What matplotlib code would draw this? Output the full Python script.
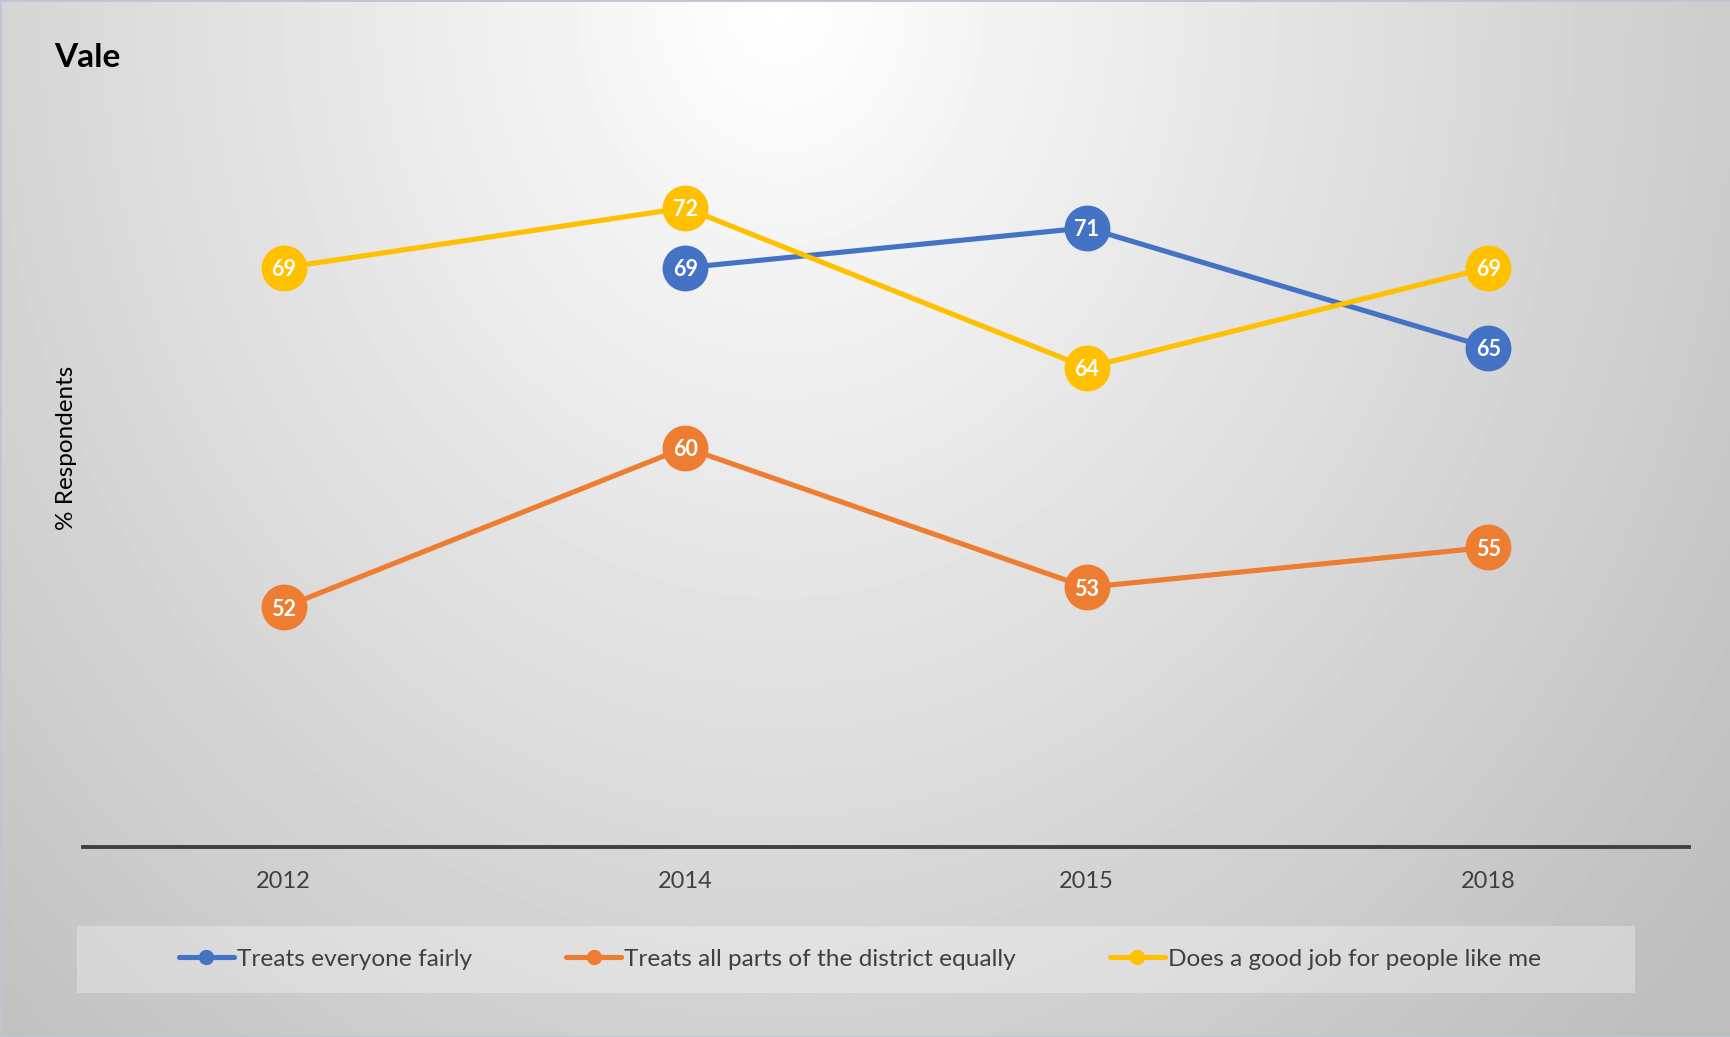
import numpy as np
import matplotlib
matplotlib.use('Agg')
import matplotlib.pyplot as plt
from matplotlib.patches import Rectangle
from matplotlib.lines import Line2D

plt.rcParams['font.family'] = ['Lato', 'DejaVu Sans']

# data
years = ['2012', '2014', '2015', '2018']
fairly = [np.nan, 69, 71, 65]
equally = [52, 60, 53, 55]
good_job = [69, 72, 64, 69]

series_names = ['Treats everyone fairly',
                'Treats all parts of the district equally',
                'Does a good job for people like me']
series_colors = ['#4472C4', '#ED7D31', '#FFC000']

W, H = 1731, 1037
fig = plt.figure(figsize=(W / 100, H / 100), dpi=100)

# radial-ish grey gradient behind everything
bg_ax = fig.add_axes([0, 0, 1, 1], zorder=-10)
yy, xx = np.mgrid[0:H, 0:W]
d = np.sqrt((1.2 * (xx - 780)) ** 2 + (yy + 0) ** 2)
shade = 255 - np.clip(0.045 * d, 0, 66)
bg_ax.imshow(shade, cmap='gray', vmin=0, vmax=255, aspect='auto',
             extent=[0, 1, 0, 1], origin='upper')
bg_ax.set_axis_off()

ax = fig.add_axes([83 / W, 1 - 847 / H, (1689 - 83) / W, (847 - 48) / H])
ax.patch.set_alpha(0)

x = np.arange(len(years))
for vals, col in zip([fairly, equally, good_job], series_colors):
    ax.plot(x, vals, color=col, lw=3.7, marker='o', markersize=32,
            markerfacecolor=col, markeredgecolor=col, solid_capstyle='round')
    for xi, v in zip(x, vals):
        if np.isnan(v):
            continue
        ax.text(xi, v, '%d' % v, ha='center', va='center_baseline',
                color='white', fontsize=15.5, fontweight='bold')

ax.set_xlim(-0.5, 3.5)
ax.set_ylim(40, 80)
ax.set_xticks(x)
ax.set_xticklabels(years, fontsize=17, color='#404040')
ax.tick_params(axis='x', length=0, pad=17)
ax.set_yticks([])
for s in ['top', 'right', 'left']:
    ax.spines[s].set_visible(False)
ax.spines['bottom'].set_color('#404040')
ax.spines['bottom'].set_linewidth(2.8)
ax.set_ylabel('% Respondents', fontsize=17.5, color='#000000', labelpad=4)

fig.text(54 / W, 1 - 67 / H, 'Vale', fontsize=24, fontweight='bold',
         ha='left', va='baseline')

# legend box
fig.patches.append(Rectangle((77 / W, 1 - 993 / H), (1635 - 77) / W, 67 / H,
                             transform=fig.transFigure, facecolor='white',
                             alpha=0.3, edgecolor='none', zorder=0))
handles = [Line2D([], [], color=c, lw=3.7, marker='o', markersize=10,
                  solid_capstyle='round') for c in series_colors]
fig.legend(handles, series_names, loc='center', ncol=3, frameon=False,
           bbox_to_anchor=(860 / W, 1 - 959 / H), fontsize=17.6,
           handlelength=2.25, handletextpad=0.12, columnspacing=3.85,
           labelcolor='#404040')

# thin chart border
fig.patches.append(Rectangle((0, 0), 1, 1, transform=fig.transFigure,
                             fill=False, edgecolor='#bcc6d2', lw=2))

fig.savefig('out.png', dpi=100)
